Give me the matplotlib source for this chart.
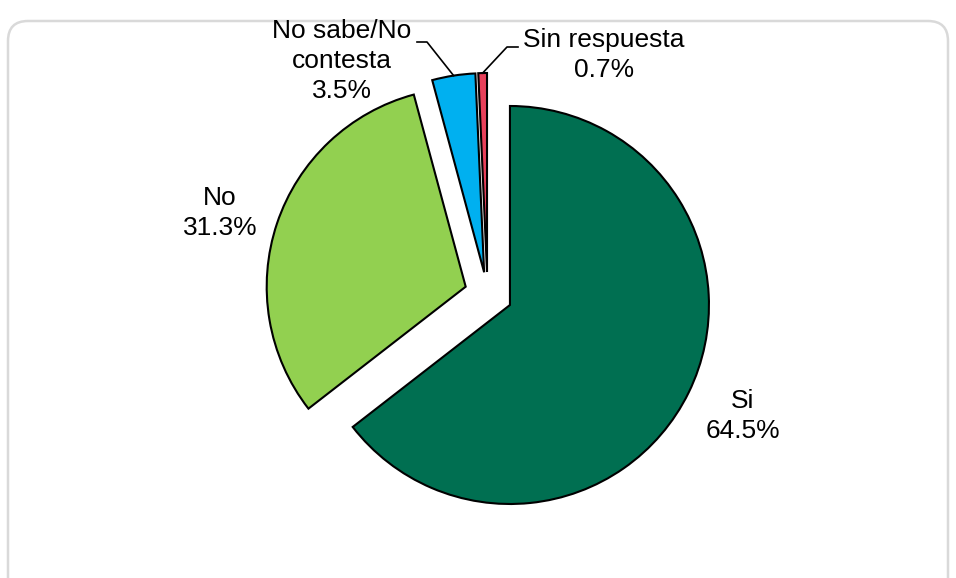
import matplotlib.pyplot as plt
import numpy as np
from matplotlib.patches import FancyBboxPatch

plt.rcParams['font.family'] = ['Liberation Sans', 'DejaVu Sans']

# datos
categorias = ['Si', 'No', 'No sabe/No\ncontesta', 'Sin respuesta']
porcentajes = [64.5, 31.3, 3.5, 0.7]
colores = ['#006F51', '#92D050', '#00B0F0', '#E8405A']
separacion = [25, 23, 22, 22]

W, H = 956, 578
fig = plt.figure(figsize=(W / 100, H / 100), dpi=100)
ax = fig.add_axes([0, 0, 1, 1])

# marco redondeado del área del gráfico
marco = FancyBboxPatch((8, -30), W - 16, H - 21 + 30,
                       boxstyle='round,pad=0,rounding_size=20',
                       fc='none', ec='#D9D9D9', lw=1.8, zorder=0)
ax.add_patch(marco)

centro = (487.5, H - 294)
radio = 199
wedges, _ = ax.pie(porcentajes, colors=colores, explode=separacion,
                   startangle=90, counterclock=False, radius=radio,
                   center=centro, frame=True,
                   wedgeprops=dict(edgecolor='black', linewidth=1.5))
ax.set_xlim(0, W)
ax.set_ylim(0, H)
ax.set_aspect('equal')
ax.axis('off')

etiquetas = [f'{c}\n{p:.1f}%' for c, p in zip(categorias, porcentajes)]
# (centro x, línea base de la primera línea) en píxeles desde arriba
pos_etiquetas = [(743, 408), (220, 205), (342, 38), (604, 47)]
paso = 30

# líneas guía para las etiquetas pequeñas
for i, (x_ini, x_codo, y_codo) in zip([2, 3], [(417, 427, 42), (518, 507, 47)]):
    w = wedges[i]
    tm = np.deg2rad((w.theta1 + w.theta2) / 2)
    px = w.center[0] + radio * np.cos(tm)
    py = w.center[1] + radio * np.sin(tm)
    ax.plot([x_ini, x_codo, px], [H - y_codo, H - y_codo, py],
            color='black', lw=1.2, zorder=5)

for txt, (x, y0) in zip(etiquetas, pos_etiquetas):
    for k, linea in enumerate(txt.split('\n')):
        ax.text(x, H - (y0 + k * paso), linea, ha='center', va='baseline',
                fontsize=19)

fig.savefig('out.png', dpi=100)
